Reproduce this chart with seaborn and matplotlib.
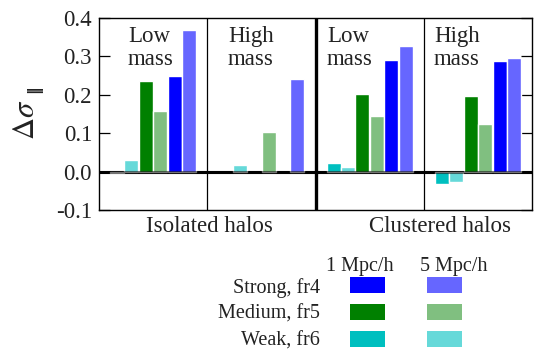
import numpy as np
import pandas as pd
import matplotlib
matplotlib.use("Agg")
import matplotlib.pyplot as plt
from matplotlib.patches import Rectangle
import seaborn as sns

# ---- data -------------------------------------------------------------
panels = ["Isolated, low mass", "Isolated, high mass",
          "Clustered, low mass", "Clustered, high mass"]
panel_titles = ["Low\nmass", "High\nmass", "Low\nmass", "High\nmass"]
models = ["Weak, 1 Mpc/h", "Weak, 5 Mpc/h",
          "Medium, 1 Mpc/h", "Medium, 5 Mpc/h",
          "Strong, 1 Mpc/h", "Strong, 5 Mpc/h"]

weak_1 = [-0.004, np.nan, 0.023, -0.033]
weak_5 = [0.031, 0.016, 0.013, -0.028]
medium_1 = [0.235, np.nan, 0.201, 0.196]
medium_5 = [0.157, 0.102, 0.146, 0.123]
strong_1 = [0.248, np.nan, 0.290, 0.287]
strong_5 = [0.370, 0.240, 0.326, 0.297]

group_labels = ["Isolated halos", "Clustered halos"]
legend_rows = ["Strong, fr4", "Medium, fr5", "Weak, fr6"]
legend_cols = ["1 Mpc/h", "5 Mpc/h"]
yticks = [-0.1, 0.0, 0.1, 0.2, 0.3, 0.4]
ytick_labels = ["-0.1", "0.0", "0.1", "0.2", "0.3", "0.4"]

colors = {
    "Weak, 1 Mpc/h": "#00bfbf", "Weak, 5 Mpc/h": "#66d9d9",
    "Medium, 1 Mpc/h": "#008000", "Medium, 5 Mpc/h": "#80bf80",
    "Strong, 1 Mpc/h": "#0000ff", "Strong, 5 Mpc/h": "#6666ff",
}

series = [weak_1, weak_5, medium_1, medium_5, strong_1, strong_5]
df = pd.DataFrame({
    "panel": [p for s in series for p in panels],
    "model": [m for m, s in zip(models, series) for _ in s],
    "value": [v for s in series for v in s],
})

# ---- style ------------------------------------------------------------
sns.set_theme(style="white")
plt.rcParams["font.family"] = ["Liberation Serif", "DejaVu Serif"]
plt.rcParams["mathtext.fontset"] = "stix"
TXT = "#222222"

W, H = 536, 351
fig = plt.figure(figsize=(W / 100, H / 100), dpi=100)
ax = fig.add_axes([99 / W, 1 - 210 / H, (532 - 99) / W, 192 / H])

def fx(x):
    return x / W

def fy(y):
    return 1 - y / H

ax.axhline(0, color="black", lw=2.2, zorder=1)
sns.barplot(data=df, x="panel", y="value", hue="model",
            order=panels, hue_order=models, palette=colors,
            saturation=1, gap=0.03, errorbar=None, legend=False,
            ax=ax, zorder=2)
ax.axhline(0, color="black", lw=2.2, alpha=0.55, zorder=3)

# panel separators
for x, lw in [(0.5, 0.9), (1.5, 2.4), (2.5, 0.9)]:
    ax.axvline(x, color="black", lw=lw, zorder=4)

ax.set_xlim(-0.5, len(panels) - 0.5)
ax.set_ylim(-0.1, 0.4)
ax.set_xticks([])
ax.set_yticks(yticks)
ax.set_yticklabels(ytick_labels)
ax.tick_params(axis="y", direction="in", length=8, width=0.9,
               right=True, left=True, labelsize=16.5, colors="black",
               labelcolor=TXT, pad=5)
ax.set_xlabel("")
ax.set_ylabel("")
for sp in ax.spines.values():
    sp.set_color("black")
    sp.set_linewidth(1.0)

# panel titles
title_x = [-0.232, 0.692, 1.606, 2.595]
for x, t in zip(title_x, panel_titles):
    ax.text(x, 0.96, t, transform=ax.get_xaxis_transform(),
            ha="left", va="top", fontsize=16.5, color=TXT,
            linespacing=1.12)

# y-axis label: Delta sigma with a bold "parallel" mark
fig.text(fx(26), fy(119.5), r"$\Delta\sigma$", rotation=90,
         ha="center", va="center", fontsize=22, color=TXT)
fig.text(fx(34.5), fy(89.5), "\u2016", rotation=90, ha="center",
         va="center", fontsize=11, fontweight="bold",
         family="DejaVu Sans", color=TXT)

# group labels
fig.text(fx(209), fy(232), group_labels[0], ha="center", va="baseline",
         fontsize=16.5, color=TXT)
fig.text(fx(440), fy(232), group_labels[1], ha="center", va="baseline",
         fontsize=16.5, color=TXT)

# legend grid
for cx, lab in zip([360, 453.5], legend_cols):
    fig.text(fx(cx), fy(271), lab, ha="center", va="baseline",
             fontsize=14.5, color=TXT)
row_keys = [("Strong, 1 Mpc/h", "Strong, 5 Mpc/h"),
            ("Medium, 1 Mpc/h", "Medium, 5 Mpc/h"),
            ("Weak, 1 Mpc/h", "Weak, 5 Mpc/h")]
for lab, base, top, keys in zip(legend_rows, [293, 319, 346],
                                [277, 304, 331], row_keys):
    fig.text(fx(320), fy(base), lab, ha="right", va="baseline",
             fontsize=14.5, color=TXT)
    for left, k in zip([350, 427], keys):
        fig.add_artist(Rectangle((fx(left), fy(top + 16)), 35 / W, 16 / H,
                                 transform=fig.transFigure,
                                 facecolor=colors[k], edgecolor="none"))

fig.savefig("out.png", dpi=100)
